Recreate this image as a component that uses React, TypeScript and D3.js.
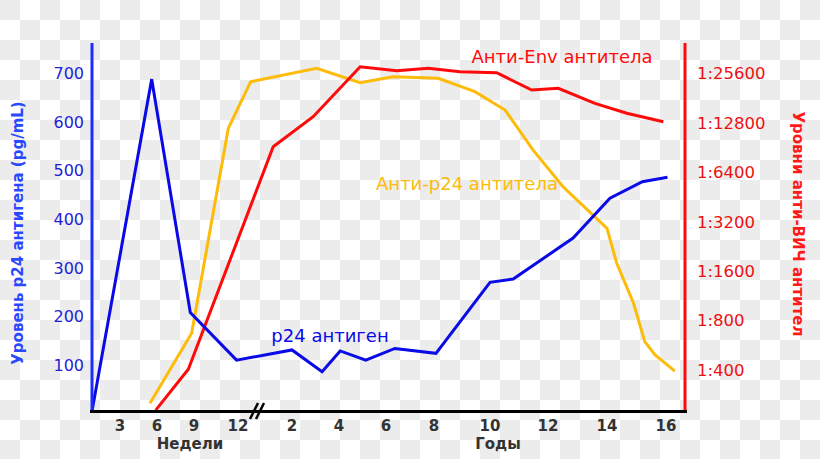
import React from 'react';
import * as d3 from 'd3';

const weekTicks = [3, 6, 9, 12];
const yearTicks = [2, 4, 6, 8, 10, 12, 14, 16];
const leftTicks = [100, 200, 300, 400, 500, 600, 700];
const rightTicks = [400, 800, 1600, 3200, 6400, 12800, 25600];

// p24 antigen (pg/mL) — left axis
const p24Weeks: [number, number][] = [[0, 5], [5.57, 688], [8.7, 208], [11.9, 110]];
const p24Years: [number, number][] = [
  [2, 131], [3.28, 86], [4.05, 129], [5.14, 110], [6.37, 134], [8.07, 124],
  [10, 270], [10.8, 277], [12.85, 361], [14.1, 443], [15.2, 477], [16.05, 486],
];

// anti-p24 antibodies (titer denominator) — right axis
const antiP24Weeks: [number, number][] = [[5.43, 251], [8.81, 669], [11.34, 11850]];
const antiP24Years: [number, number][] = [
  [0.24, 22750], [3.05, 27460], [4.9, 22430], [6.3, 24400], [8.15, 23860],
  [9.46, 19780], [10.52, 15300], [11.48, 8740], [12.51, 5220], [14.0, 2915],
  [14.33, 1785], [14.9, 1020], [15.28, 595], [15.63, 494], [16.3, 394],
];

// anti-Env antibodies (titer denominator) — right axis
const antiEnvWeeks: [number, number][] = [[5.9, 228], [8.54, 404]];
const antiEnvYears: [number, number][] = [
  [1.2, 9150], [2.9, 13930], [4.9, 28070], [6.45, 26550], [7.76, 27460],
  [8.93, 26170], [10.23, 25810], [11.44, 20250], [12.35, 20750], [13.59, 16810],
  [14.67, 14620], [15.91, 12990],
];

const W = 820;
const H = 459;

const xWeek = d3.scaleLinear().domain([0, 3, 6, 9, 12]).range([92, 120, 157, 194, 238]);
const xYear = d3.scaleLinear().domain([2, 4, 6, 8, 10, 12, 14, 16]).range([292, 339, 386, 434, 490, 548, 607, 666]);
const yLeft = d3.scaleLinear().domain([100, 700]).range([365, 73.3]);
const yRight = d3.scaleLog().base(2).domain([400, 25600]).range([370, 73.3]);

const BLUE = '#0a0ae6';
const RED = '#ff0a0a';
const ORANGE = '#fdbb0a';

function pts(weeks: [number, number][], years: [number, number][], y: (v: number) => number): [number, number][] {
  return [
    ...weeks.map(([t, v]) => [xWeek(t), y(v)] as [number, number]),
    ...years.map(([t, v]) => [xYear(t), y(v)] as [number, number]),
  ];
}

const line = d3.line<[number, number]>().x(d => d[0]).y(d => d[1]);

export default function App() {
  const font = '"DejaVu Sans", Verdana, sans-serif';
  const p24Path = line(pts(p24Weeks, p24Years, yLeft)) || '';
  const antiP24Path = line(pts(antiP24Weeks, antiP24Years, yRight)) || '';
  const antiEnvPath = line(pts(antiEnvWeeks, antiEnvYears, yRight)) || '';
  const fmtRight = (v: number) => `1:${v}`;
  return (
    <svg width={W} height={H} style={{ position: 'absolute', left: 0, top: 0 }} fontFamily={font}>
      <defs>
        <pattern id="checker" width={40} height={40} patternUnits="userSpaceOnUse">
          <rect width={40} height={40} fill="#ffffff" />
          <rect x={0} y={0} width={20} height={20} fill="#ececec" />
          <rect x={20} y={20} width={20} height={20} fill="#ececec" />
        </pattern>
      </defs>
      <rect width={W} height={H} fill="url(#checker)" />

      {/* data lines */}
      <path d={antiP24Path} fill="none" stroke={ORANGE} strokeWidth={3} />
      <path d={antiEnvPath} fill="none" stroke={RED} strokeWidth={3} />
      <path d={p24Path} fill="none" stroke={BLUE} strokeWidth={3} />

      {/* axes */}
      <line x1={92} x2={92} y1={43} y2={412} stroke="#1a2cff" strokeWidth={3} />
      <line x1={685} x2={685} y1={43} y2={412} stroke={RED} strokeWidth={3} />
      <line x1={90} x2={687} y1={411.5} y2={411.5} stroke="#000" strokeWidth={3} />
      <line x1={250} x2={258} y1={419} y2={403} stroke="#000" strokeWidth={2.5} />
      <line x1={256} x2={264} y1={419} y2={403} stroke="#000" strokeWidth={2.5} />

      {/* left ticks */}
      {leftTicks.map(t => (
        <text key={'l' + t} x={84} y={yLeft(t) + 5.8} textAnchor="end" fontSize={16} fill="#1f1fd6">{t}</text>
      ))}
      {/* right ticks */}
      {rightTicks.map(t => (
        <text key={'r' + t} x={697} y={yRight(t) + 5.9} textAnchor="start" fontSize={16.5} fill="#ee1010">{fmtRight(t)}</text>
      ))}
      {/* bottom ticks */}
      {weekTicks.map(t => (
        <text key={'w' + t} x={xWeek(t)} y={431} textAnchor="middle" fontSize={15} fontWeight="bold" fill="#333">{t}</text>
      ))}
      {yearTicks.map(t => (
        <text key={'y' + t} x={xYear(t)} y={431} textAnchor="middle" fontSize={15} fontWeight="bold" fill="#333">{t}</text>
      ))}
      <text x={190} y={449} textAnchor="middle" fontSize={15} fontWeight="bold" fill="#333">Недели</text>
      <text x={498} y={449} textAnchor="middle" fontSize={15} fontWeight="bold" fill="#333">Годы</text>

      {/* axis titles */}
      <text transform="translate(23,233) rotate(-90)" textAnchor="middle" fontSize={15} fontWeight="bold" fill="#2a48ff">Уровень р24 антигена (pg/mL)</text>
      <text transform="translate(793,224) rotate(90)" textAnchor="middle" fontSize={15} fontWeight="bold" fill="#ff1a1a">Уровни анти-ВИЧ антител</text>

      {/* series labels */}
      <text x={562} y={63} textAnchor="middle" fontSize={18} fill={RED}>Анти-Env антитела</text>
      <text x={467} y={189.5} textAnchor="middle" fontSize={18} fill={ORANGE}>Анти-p24 антитела</text>
      <text x={330} y={341.5} textAnchor="middle" fontSize={18} fill={BLUE}>p24 антиген</text>
    </svg>
  );
}
